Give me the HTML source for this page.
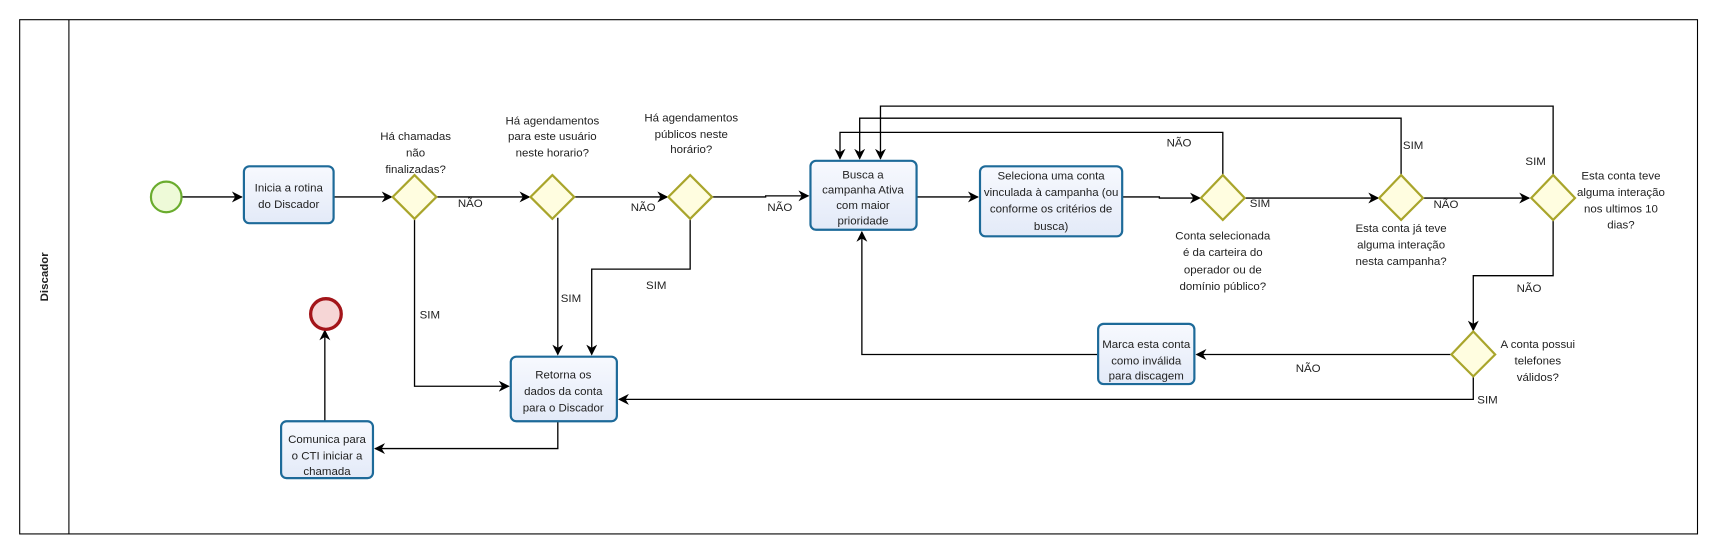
<!DOCTYPE html>
<html><head><meta charset="utf-8"><style>
html,body{margin:0;padding:0;background:#fff;width:1715px;height:558px;overflow:hidden}
svg{display:block}
text{font-family:"Liberation Sans",sans-serif;font-size:10.5px;fill:#222}
</style></head><body>
<svg width="1715" height="558" viewBox="0 0 1568 510" preserveAspectRatio="none">
<defs>
<marker id="a" markerWidth="10" markerHeight="10" refX="9" refY="5" orient="auto" markerUnits="userSpaceOnUse"><path d="M0,0 L10,5 L0,10 L3,5 z" fill="#000"/></marker>
<linearGradient id="tg" x1="0" y1="0" x2="0" y2="1"><stop offset="0" stop-color="#f7f9fe"/><stop offset="1" stop-color="#e3eaf8"/></linearGradient>
</defs>
<rect x="18" y="18" width="1534" height="470" fill="#fff" stroke="#000" stroke-width="1"/>
<line x1="63" y1="18" x2="63" y2="488" stroke="#000"/>
<text transform="translate(44,253) rotate(-90)" text-anchor="middle" style="font-weight:bold;font-size:10.5px">Discador</text>

<g fill="none" stroke="#000" stroke-width="1.2">
<path d="M166,180 H221" marker-end="url(#a)"/>
<path d="M305,180 H358" marker-end="url(#a)"/>
<path d="M398,180 H484" marker-end="url(#a)"/>
<path d="M524,180 H610" marker-end="url(#a)"/>
<path d="M650,180 H700 V179 H739" marker-end="url(#a)"/>
<path d="M838,180 H894" marker-end="url(#a)"/>
<path d="M1026,180 H1060 V181 H1097" marker-end="url(#a)"/>
<path d="M1137,181 H1260" marker-end="url(#a)"/>
<path d="M1300,181 H1398" marker-end="url(#a)"/>
<path d="M1118,161 V121 H768 V145" marker-end="url(#a)"/>
<path d="M1281,161 V108 H786 V145" marker-end="url(#a)"/>
<path d="M1420,161 V97 H805 V145" marker-end="url(#a)"/>
<path d="M1420,200 V252 H1347 V302" marker-end="url(#a)"/>
<path d="M1327,324 H1094" marker-end="url(#a)"/>
<path d="M1004,324 H788 V212" marker-end="url(#a)"/>
<path d="M1347,344 V365 H566" marker-end="url(#a)"/>
<path d="M379,199 V353 H465" marker-end="url(#a)"/>
<path d="M510,199 V324" marker-end="url(#a)"/>
<path d="M631,199 V246 H541 V324" marker-end="url(#a)"/>
<path d="M510,385 V410 H343" marker-end="url(#a)"/>
<path d="M297,385 V302" marker-end="url(#a)"/>
</g>

<circle cx="152" cy="180" r="14" fill="#eefad8" stroke="#6aac2e" stroke-width="2"/>
<circle cx="298" cy="287" r="14" fill="#f6d6d6" stroke="#a3151a" stroke-width="3"/>

<g fill="url(#tg)" stroke="#1d6a99" stroke-width="2">
<rect x="223" y="152" width="82" height="52" rx="5"/>
<rect x="741" y="147" width="97" height="63" rx="5"/>
<rect x="896" y="152" width="130" height="64" rx="5"/>
<rect x="1004" y="296" width="88" height="55" rx="5"/>
<rect x="467" y="326" width="97" height="59" rx="5"/>
<rect x="257" y="385" width="84" height="52" rx="5"/>
</g>

<g fill="#fffde0" stroke="#a9a52b" stroke-width="2">
<path d="M379,160 L399,180 L379,200 L359,180 z"/>
<path d="M505,160 L525,180 L505,200 L485,180 z"/>
<path d="M631,160 L651,180 L631,200 L611,180 z"/>
<path d="M1118,160 L1138,181 L1118,201 L1098,181 z"/>
<path d="M1281,160 L1301,181 L1281,201 L1261,181 z"/>
<path d="M1420,160 L1440,181 L1420,201 L1400,181 z"/>
<path d="M1347,303 L1367,324 L1347,344 L1327,324 z"/>
</g>

<g text-anchor="middle">
<text x="264" y="175">Inicia a rotina</text><text x="264" y="190">do Discador</text>
<text x="789" y="163">Busca a</text><text x="789" y="177">campanha Ativa</text><text x="789" y="191">com maior</text><text x="789" y="205">prioridade</text>
<text x="961" y="164">Seleciona uma conta</text><text x="961" y="179">vinculada à campanha (ou</text><text x="961" y="194">conforme os critérios de</text><text x="961" y="210">busca)</text>
<text x="1048" y="318">Marca esta conta</text><text x="1048" y="333">como inválida</text><text x="1048" y="347">para discagem</text>
<text x="515" y="346">Retorna os</text><text x="515" y="361">dados da conta</text><text x="515" y="376">para o Discador</text>
<text x="299" y="405">Comunica para</text><text x="299" y="420">o CTI iniciar a</text><text x="299" y="434">chamada</text>

<text x="380" y="128">Há chamadas</text><text x="380" y="143">não</text><text x="380" y="158">finalizadas?</text>
<text x="505" y="114">Há agendamentos</text><text x="505" y="128">para este usuário</text><text x="505" y="143">neste horario?</text>
<text x="632" y="111">Há agendamentos</text><text x="632" y="126">públicos neste</text><text x="632" y="140">horário?</text>
<text x="1118" y="219">Conta selecionada</text><text x="1118" y="234">é da carteira do</text><text x="1118" y="250">operador ou de</text><text x="1118" y="265">domínio público?</text>
<text x="1281" y="212">Esta conta já teve</text><text x="1281" y="227">alguma interação</text><text x="1281" y="242">nesta campanha?</text>
<text x="1482" y="164">Esta conta teve</text><text x="1482" y="179">alguma interação</text><text x="1482" y="194">nos ultimos 10</text><text x="1482" y="209">dias?</text>
<text x="1406" y="318">A conta possui</text><text x="1406" y="333">telefones</text><text x="1406" y="348">válidos?</text>

<text x="430" y="189">NÃO</text>
<text x="588" y="193">NÃO</text>
<text x="713" y="193">NÃO</text>
<text x="1152" y="189">SIM</text>
<text x="1322" y="190">NÃO</text>
<text x="1078" y="134">NÃO</text>
<text x="1292" y="136">SIM</text>
<text x="1404" y="151">SIM</text>
<text x="1398" y="267">NÃO</text>
<text x="1196" y="340">NÃO</text>
<text x="1360" y="369">SIM</text>
<text x="393" y="291">SIM</text>
<text x="522" y="276">SIM</text>
<text x="600" y="264">SIM</text>
</g>
</svg>
</body></html>
